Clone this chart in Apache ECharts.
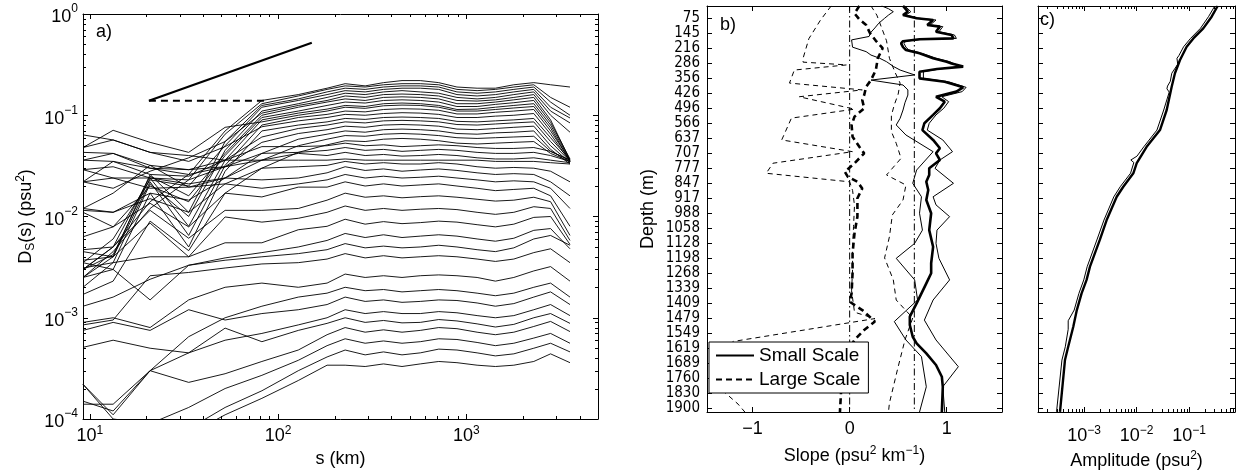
<!DOCTYPE html>
<html><head><meta charset="utf-8">
<script src="https://cdn.jsdelivr.net/npm/echarts@6.0.0/dist/echarts.min.js"></script>
<style>html,body{margin:0;padding:0;background:#fff}#c{width:1242px;height:471px}</style>
</head><body><div id="c"></div>
<script>
// ---------------- Panel a: structure functions D_S(s) ----------------
const sKm = [9.2,13.3,20.9,33.5,52.3,82,128,182,227,290,363,455,569,713,891,1140,1426,1786,2280,2800,3550];
const dsProfiles = [
 [5e-5,4e-5,5e-5,7e-5,1.1e-4,1.6e-4,2.4e-4,3.4e-4,3.4e-4,3.3e-4,3.5e-4,3.3e-4,3.5e-4,3.7e-4,3.6e-4,3.4e-4,3.3e-4,3.4e-4,3.7e-4,4.4e-4,3.6e-4],
 [6e-5,5e-5,6e-5,8e-5,1.3e-4,1.9e-4,3.0e-4,4.1e-4,4.8e-4,4.3e-4,4.6e-4,4.3e-4,4.5e-4,4.9e-4,4.8e-4,4.5e-4,4.2e-4,4.4e-4,5.0e-4,5.6e-4,4.6e-4],
 [2.2e-4,1.0e-4,9e-5,1.3e-4,2.0e-4,2.7e-4,3.8e-4,5.3e-4,6.2e-4,5.6e-4,5.9e-4,5.6e-4,5.8e-4,6.2e-4,6.1e-4,5.7e-4,5.3e-4,5.6e-4,6.3e-4,7.0e-4,5.6e-4],
 [1.4e-4,1.4e-4,3.0e-4,2.3e-4,2.8e-4,3.7e-4,4.8e-4,6.8e-4,8.0e-4,7.2e-4,7.6e-4,7.2e-4,7.5e-4,8.0e-4,7.8e-4,7.2e-4,6.8e-4,7.2e-4,8.2e-4,9.2e-4,7.3e-4],
 [1.5e-4,1.2e-4,3e-4,4.5e-4,7.9e-4,5.8e-4,7.5e-4,8.8e-4,1.0e-3,9.0e-4,9.4e-4,8.9e-4,9.0e-4,9.6e-4,9.3e-4,8.7e-4,8.1e-4,8.6e-4,1.0e-3,1.1e-3,8.8e-4],
 [5.1e-4,6.0e-4,5.0e-4,4.5e-4,6.0e-4,7.0e-4,8.5e-4,1.0e-3,1.2e-3,1.1e-3,1.15e-3,1.1e-3,1.1e-3,1.15e-3,1.12e-3,1.05e-3,1.0e-3,1.05e-3,1.2e-3,1.35e-3,1.05e-3],
 [7.5e-4,9.0e-4,7.5e-4,1.2e-3,9.5e-4,1.1e-3,1.2e-3,1.35e-3,1.6e-3,1.45e-3,1.5e-3,1.42e-3,1.45e-3,1.5e-3,1.48e-3,1.4e-3,1.3e-3,1.38e-3,1.6e-3,1.8e-3,1.35e-3],
 [2.2e-4,1.1e-4,3.0e-4,6.5e-4,1.0e-3,1.3e-3,1.6e-3,1.75e-3,2.0e-3,1.85e-3,1.9e-3,1.8e-3,1.85e-3,1.9e-3,1.85e-3,1.75e-3,1.65e-3,1.75e-3,2.0e-3,2.2e-3,1.6e-3],
 [9.0e-4,1.0e-3,8.0e-4,1.5e-3,2.0e-3,2.2e-3,2.0e-3,2.2e-3,2.7e-3,2.5e-3,2.6e-3,2.5e-3,2.6e-3,2.65e-3,2.6e-3,2.5e-3,2.3e-3,2.5e-3,2.9e-3,3.2e-3,2.3e-3],
 [8.5e-4,9.5e-4,2.6e-3,2.8e-3,3.1e-3,3.4e-3,3.5e-3,3.8e-3,4.3e-3,3.9e-3,4.1e-3,3.9e-3,4.0e-3,4.1e-3,4.0e-3,3.8e-3,3.6e-3,3.8e-3,4.4e-3,4.8e-3,3.5e-3],
 [1.3e-3,1.6e-3,2.4e-3,3.3e-3,3.7e-3,4.0e-3,4.3e-3,4.7e-3,5.4e-3,4.9e-3,5.1e-3,4.9e-3,5.0e-3,5.2e-3,5.0e-3,4.7e-3,4.5e-3,4.9e-3,6.0e-3,6.5e-3,5.2e-3],
 [2.5e-3,3.0e-3,1.5e-3,3.3e-3,3.9e-3,4.4e-3,5.0e-3,5.8e-3,6.8e-3,6.2e-3,6.6e-3,6.2e-3,6.4e-3,6.6e-3,6.4e-3,6.0e-3,5.7e-3,6.1e-3,7.3e-3,7.6e-3,4.8e-3],
 [3.1e-3,3.5e-3,4.0e-3,4.0e-3,5.5e-3,5.5e-3,7.4e-3,8.0e-3,9.4e-3,8.4e-3,8.9e-3,8.5e-3,8.7e-3,9.0e-3,8.8e-3,8.3e-3,7.9e-3,8.4e-3,9.8e-3,1.0e-2,5.3e-3],
 [3.7e-3,4.0e-3,8.6e-3,4.0e-3,9.9e-3,8.8e-3,9.6e-3,1.1e-2,1.27e-2,1.15e-2,1.2e-2,1.15e-2,1.18e-2,1.2e-2,1.17e-2,1.1e-2,1.05e-2,1.1e-2,1.25e-2,1.2e-2,5.8e-3],
 [4.7e-3,5.0e-3,1.15e-2,6.1e-3,1.15e-2,1.15e-2,1.2e-2,1.45e-2,1.7e-2,1.55e-2,1.6e-2,1.53e-2,1.57e-2,1.6e-2,1.55e-2,1.48e-2,1.42e-2,1.45e-2,1.55e-2,1.4e-2,6.5e-3],
 [6.3e-3,7.9e-3,1.35e-2,7.9e-3,1.7e-2,1.56e-2,1.95e-2,1.95e-2,2.2e-2,2.0e-2,2.1e-2,2.0e-2,2.05e-2,2.1e-2,2.0e-2,1.9e-2,1.8e-2,1.85e-2,1.9e-2,1.6e-2,8e-3],
 [1.15e-2,1.1e-2,1.5e-2,1.1e-2,2.1e-2,1.9e-2,2.1e-2,2.3e-2,2.6e-2,2.4e-2,2.5e-2,2.4e-2,2.44e-2,2.5e-2,2.4e-2,2.3e-2,2.2e-2,2.25e-2,2.2e-2,1.9e-2,1.2e-2],
 [1.2e-2,1.1e-2,1.7e-2,1.45e-2,2.4e-2,2.3e-2,2.4e-2,2.7e-2,3.1e-2,2.85e-2,2.95e-2,2.8e-2,2.88e-2,2.95e-2,2.85e-2,2.7e-2,2.6e-2,2.65e-2,2.6e-2,2.2e-2,1.6e-2],
 [2.2e-2,2.4e-2,1.9e-2,1.95e-2,2.1e-2,3.0e-2,3.1e-2,3.2e-2,3.5e-2,3.3e-2,3.4e-2,3.3e-2,3.3e-2,3.4e-2,3.3e-2,3.1e-2,3.0e-2,3.05e-2,3.0e-2,2.8e-2,2.2e-2],
 [2.9e-2,3.1e-2,2.4e-2,2.3e-2,3.1e-2,3.6e-2,3.6e-2,3.6e-2,3.7e-2,3.6e-2,3.6e-2,3.6e-2,3.6e-2,3.6e-2,3.6e-2,3.6e-2,3.5e-2,3.5e-2,3.5e-2,3.4e-2,3.3e-2],
 [3.6e-2,3.5e-2,2.6e-2,2.5e-2,3.6e-2,3.6e-2,4.2e-2,4.0e-2,4.3e-2,4.0e-2,4.1e-2,3.95e-2,4.0e-2,4.1e-2,4.0e-2,3.8e-2,3.7e-2,3.7e-2,3.8e-2,3.6e-2,3.4e-2],
 [4.3e-2,4.2e-2,3.0e-2,2.9e-2,3.1e-2,4.2e-2,4.3e-2,4.5e-2,4.8e-2,4.5e-2,4.6e-2,4.4e-2,4.5e-2,4.6e-2,4.5e-2,4.3e-2,4.2e-2,4.2e-2,4.3e-2,4.0e-2,3.5e-2],
 [4.8e-2,5.7e-2,4.3e-2,4.0e-2,3.6e-2,4.9e-2,4.9e-2,5.0e-2,5.3e-2,5.0e-2,5.1e-2,4.9e-2,5.0e-2,5.1e-2,5.0e-2,4.8e-2,4.7e-2,4.7e-2,4.8e-2,4.4e-2,3.6e-2],
 [1.7e-3,2.3e-3,9e-3,4.6e-3,1.7e-2,3.0e-2,4.3e-2,5.1e-2,5.6e-2,5.5e-2,5.8e-2,5.9e-2,5.8e-2,5.6e-2,5.3e-2,5.2e-2,5.3e-2,5.4e-2,5.5e-2,4.2e-2,3.5e-2],
 [1.2e-2,1.7e-2,3.2e-2,1.95e-2,2.4e-2,3.6e-2,5.0e-2,5.8e-2,6.3e-2,6.2e-2,6.5e-2,6.6e-2,6.5e-2,6.3e-2,6.0e-2,5.9e-2,6.0e-2,6.1e-2,6.2e-2,4.4e-2,3.6e-2],
 [2.9e-2,2.4e-2,2.4e-2,2.1e-2,2.4e-2,4.2e-2,5.8e-2,6.5e-2,7.0e-2,6.8e-2,7.2e-2,7.3e-2,7.2e-2,7.0e-2,6.6e-2,6.5e-2,6.7e-2,6.8e-2,7.0e-2,4.6e-2,3.3e-2],
 [2.2e-2,3.5e-2,3.0e-2,2.6e-2,3.1e-2,5.4e-2,6.6e-2,7.2e-2,7.8e-2,7.6e-2,8.0e-2,8.1e-2,8.0e-2,7.8e-2,7.3e-2,7.2e-2,7.4e-2,7.6e-2,7.8e-2,5.0e-2,3.4e-2],
 [3.6e-2,4.2e-2,3.2e-2,2.9e-2,3.6e-2,6.1e-2,7.4e-2,8.0e-2,8.6e-2,8.4e-2,8.8e-2,8.9e-2,8.8e-2,8.6e-2,8.1e-2,8.0e-2,8.2e-2,8.4e-2,8.6e-2,5.5e-2,3.5e-2],
 [3.5e-3,3e-3,1.7e-2,5e-3,2.8e-2,7e-2,8.0e-2,8.6e-2,9.3e-2,9.1e-2,9.5e-2,9.6e-2,9.5e-2,9.3e-2,8.7e-2,8.6e-2,8.8e-2,9.0e-2,9.3e-2,6.0e-2,3.6e-2],
 [6.4e-2,5.7e-2,4.3e-2,3.5e-2,4.9e-2,7.7e-2,8.8e-2,9.5e-2,1.02e-1,1.0e-1,1.04e-1,1.06e-1,1.05e-1,1.02e-1,9.5e-2,9.5e-2,9.8e-2,1.0e-1,1.04e-1,6.5e-2,3.5e-2],
 [2.5e-3,4e-3,2.2e-2,6.5e-3,3.2e-2,8.0e-2,9.5e-2,1.02e-1,1.1e-1,1.08e-1,1.14e-1,1.16e-1,1.15e-1,1.12e-1,1.03e-1,1.03e-1,1.07e-1,1.1e-1,1.14e-1,7.0e-2,3.6e-2],
 [4.8e-2,7.1e-2,5.4e-2,4.3e-2,7.6e-2,8.6e-2,1.0e-1,1.1e-1,1.2e-1,1.17e-1,1.24e-1,1.26e-1,1.25e-1,1.2e-1,1.1e-1,1.1e-1,1.14e-1,1.18e-1,1.22e-1,7.5e-2,3.5e-2],
 [3e-3,4.2e-3,2.4e-2,8e-3,3.6e-2,9.0e-2,1.05e-1,1.15e-1,1.25e-1,1.22e-1,1.3e-1,1.32e-1,1.3e-1,1.25e-1,1.14e-1,1.15e-1,1.2e-1,1.25e-1,1.3e-1,8.0e-2,3.6e-2],
 [1.1e-2,7.9e-3,2.0e-2,1.4e-2,4.0e-2,9.5e-2,1.1e-1,1.25e-1,1.35e-1,1.32e-1,1.4e-1,1.42e-1,1.4e-1,1.35e-1,1.22e-1,1.22e-1,1.28e-1,1.33e-1,1.4e-1,8.5e-2,3.7e-2],
 [3e-3,5e-3,2.5e-2,1.6e-2,4.2e-2,1.0e-1,1.2e-1,1.35e-1,1.45e-1,1.4e-1,1.5e-1,1.52e-1,1.5e-1,1.45e-1,1.3e-1,1.3e-1,1.35e-1,1.42e-1,1.5e-1,9.0e-2,3.6e-2],
 [2.2e-2,1.9e-2,2.8e-2,3.8e-2,5.5e-2,1.05e-1,1.25e-1,1.4e-1,1.55e-1,1.5e-1,1.6e-1,1.62e-1,1.6e-1,1.55e-1,1.4e-1,1.38e-1,1.42e-1,1.5e-1,1.6e-1,1.0e-1,6.8e-2],
 [2e-3,3.5e-3,2.1e-2,1.0e-2,4.5e-2,1.1e-1,1.3e-1,1.5e-1,1.65e-1,1.6e-1,1.7e-1,1.75e-1,1.7e-1,1.65e-1,1.5e-1,1.45e-1,1.5e-1,1.6e-1,1.7e-1,1.1e-1,8.4e-2],
 [3.5e-3,6e-3,2.3e-2,2.0e-2,5.0e-2,1.2e-1,1.4e-1,1.6e-1,1.75e-1,1.7e-1,1.8e-1,1.85e-1,1.85e-1,1.8e-1,1.6e-1,1.55e-1,1.6e-1,1.7e-1,1.8e-1,1.2e-1,9.4e-2],
 [4.5e-3,4e-3,2.6e-2,1.1e-2,5.5e-2,1.25e-1,1.45e-1,1.7e-1,1.85e-1,1.8e-1,1.9e-1,1.95e-1,1.95e-1,1.9e-1,1.7e-1,1.65e-1,1.7e-1,1.8e-1,1.9e-1,1.35e-1,1.0e-1],
 [2.5e-3,4.5e-3,1.2e-2,2.3e-2,6.5e-2,1.3e-1,1.55e-1,1.8e-1,1.95e-1,1.9e-1,2.0e-1,2.05e-1,2.05e-1,2.0e-1,1.8e-1,1.75e-1,1.8e-1,1.9e-1,2.0e-1,1.5e-1,1.2e-1],
 [3e-3,5e-3,1.4e-2,2.6e-2,7.0e-2,1.4e-1,1.6e-1,1.85e-1,2.05e-1,1.95e-1,2.1e-1,2.2e-1,2.2e-1,2.1e-1,1.9e-1,1.85e-1,1.85e-1,2.0e-1,2.1e-1,2.0e-1,1.9e-1]
];
const slopeRefS = [20.6, 151];
const slopeRefD = [0.139, 0.52];
const flatRefS = [20.6, 87];
const flatRefD = [0.139, 0.139];

// ---------------- Panel b: slopes vs depth  [depth m, slope] ----------------
const depthTicks = [75,145,216,286,356,426,496,566,637,707,777,847,917,988,1058,1128,1198,1268,1339,1409,1479,1549,1619,1689,1760,1830,1900];
const smallMean = [[17,.55],[44,.60],[60,.55],[75,.69],[83,.86],[106,.80],[114,.93],[138,.89],[153,1.05],[169,1.07],[173,.72],[182,.55],[192,.53],[210,.55],[223,.58],[239,.72],[262,.86],[278,1.0],[286,1.05],[301,1.17],[312,.90],[325,.72],[356,.72],[372,.98],[398,1.17],[418,1.10],[442,.89],[465,.98],[496,.93],[527,.86],[566,.77],[598,.75],[644,.86],[683,.93],[707,.89],[738,.93],[777,.82],[808,.82],[840,.79],[878,.81],[925,.79],[987,.84],[1066,.82],[1144,.86],[1221,.84],[1268,.84],[1315,.79],[1362,.74],[1409,.69],[1471,.62],[1510,.62],[1565,.65],[1596,.69],[1643,.79],[1697,.89],[1752,.95],[1799,.96],[1917,.95]];
const smallHi = [[17,.57],[44,.63],[60,.58],[75,.72],[83,.89],[106,.83],[114,.96],[138,.92],[153,1.08],[169,1.10],[173,.75],[182,.58],[192,.56],[210,.58],[223,.61],[239,.75],[262,.89],[278,1.03],[286,1.07],[301,1.15],[312,.93],[325,.76],[356,.76],[372,1.02],[398,1.20],[418,1.16],[442,.95],[465,1.02],[496,.97],[527,.89],[566,.82],[598,.80],[644,.96],[699,1.06],[738,.93],[777,.88],[847,1.07],[910,.86],[948,.89],[1003,1.03],[1066,.90],[1128,.89],[1198,.92],[1299,1.03],[1393,.86],[1487,.77],[1580,.89],[1705,1.12],[1799,.96],[1917,.98]];
const smallLo = [[17,.33],[30,.40],[44,.45],[60,.40],[75,.36],[98,.30],[120,.26],[140,.22],[160,.20],[176,.02],[185,0.0],[210,.03],[231,.17],[247,.22],[262,.31],[278,.38],[300,.45],[317,.52],[340,.67],[364,.22],[387,.55],[410,.60],[434,.60],[470,.57],[504,.55],[543,.52],[574,.48],[621,.58],[699,.86],[785,.69],[847,.65],[910,.74],[987,.72],[1066,.75],[1128,.67],[1198,.48],[1299,.67],[1393,.70],[1494,.46],[1580,.58],[1658,.74],[1799,.79],[1917,.72]];
const largeMean = [[17,.10],[52,.05],[80,.10],[106,.17],[145,.21],[180,.27],[215,.34],[262,.29],[317,.27],[364,.22],[395,.17],[434,.15],[457,.13],[496,.15],[535,.05],[574,.02],[629,.03],[676,.10],[707,.15],[753,.05],[793,-.05],[816,-.02],[840,.08],[871,.13],[917,.08],[1003,.08],[1081,.05],[1175,.03],[1268,.03],[1362,.02],[1401,0],[1440,.13],[1494,.26],[1533,.15],[1580,.05],[1643,-.03],[1750,-.08],[1917,-.1]];
const largeHi = [[17,.22],[60,.28],[120,.33],[180,.38],[262,.41],[330,.47],[378,.52],[430,.50],[480,.46],[530,.43],[605,.43],[660,.48],[730,.53],[808,.38],[855,.58],[925,.55],[995,.44],[1097,.41],[1196,.36],[1299,.45],[1393,.48],[1477,.65],[1580,.57],[1705,.50],[1875,.41],[1917,.40]];
const largeLo = [[17,-.19],[83,-.30],[170,-.42],[262,-.48],[280,-.48],[293,-.03],[317,-.57],[378,-.62],[410,.13],[442,-.52],[500,.05],[542,-.60],[644,-.70],[699,.03],[753,-.79],[800,-.86],[840,0.0],[880,.03],[950,.05],[1050,.04],[1150,.03],[1250,.03],[1350,.02],[1450,.05],[1480,.26],[1587,-1.2],[1700,-1.45],[1800,-1.35],[1880,-1.15],[1917,-1.08]];
const refSlopes = [0, 2/3];

// ---------------- Panel c: amplitude vs depth  [depth m, amplitude psu^2] ----------------
const ampThick = [[17.5,.352],[67.5,.270],[122,.187],[169,.121],[208,.0903],[270,.0674],[332,.054],[395,.0468],[504,.0376],[598,.028],[676,.0156],[753,.0101],[800,.0087],[863,.0056],[910,.0042],[1019,.0027],[1112,.0020],[1237,.0013],[1299,.00112],[1362,.0009],[1440,.00073],[1518,.000625],[1612,.0005],[1674,.000434],[1916,.000349]];
const ampThin = [[17.5,.31],[67.5,.235],[122,.165],[169,.107],[208,.079],[250,.064],[262,.059],[290,.061],[332,.047],[370,.044],[392,.039],[405,.038],[420,.042],[504,.033],[598,.0245],[676,.0138],[720,.0102],[738,.0078],[750,.0089],[800,.0077],[863,.0049],[910,.0037],[1019,.0024],[1112,.00176],[1237,.00115],[1299,.00099],[1362,.0008],[1440,.00065],[1490,.0005],[1530,.0005],[1612,.00044],[1674,.00038],[1916,.0003]];

// axis limits
const sRange = [9.2, 5000];
const dsRange = [1e-4, 1];
const slopeRange = [-1.47, 1.57];
const depthRange = [17.4, 1917];
const ampRange = [1.33e-4, 0.752];

// ---------------- build ----------------
const L10 = Math.log10;
const FONT = 'Liberation Sans, Arial, sans-serif';
const NARROW = 'Liberation Sans Narrow, DejaVu Sans Condensed, Liberation Sans, sans-serif';
const dStep = (depthTicks[depthTicks.length-1] - depthTicks[0]) / (depthTicks.length - 1);
const u = d => (d - depthTicks[0]) / dStep;

function supNum(n){ return n < 0 ? '\u2212' + (-n) : String(n); }
function isInt(v){ return Math.abs(v - Math.round(v)) < 1e-6; }
function pow10Fmt(v){ if (!isInt(v)) return ''; return '{b|10}{s|' + supNum(Math.round(v)) + '}'; }
const richX = { b:{fontFamily:FONT,fontSize:18,lineHeight:22,color:'#000'}, s:{fontFamily:FONT,fontSize:12,lineHeight:12,verticalAlign:'top',color:'#000'} };
const richY = { b:{fontFamily:FONT,fontSize:18,lineHeight:22,padding:[7,0,0,0],color:'#000'}, s:{fontFamily:FONT,fontSize:12,lineHeight:12,verticalAlign:'top',color:'#000'} };
const nameRich = { n:{fontFamily:FONT,fontSize:18,lineHeight:22,color:'#000'}, s:{fontFamily:FONT,fontSize:12,lineHeight:12,verticalAlign:'top',color:'#000'}, d:{fontFamily:FONT,fontSize:12,lineHeight:12,verticalAlign:'bottom',color:'#000'} };

function ax(extra){
  return Object.assign({
    type:'value',
    axisLine:{show:true,onZero:false,lineStyle:{color:'#000',width:1}},
    axisTick:{show:true,inside:true,length:5,lineStyle:{color:'#000',width:1}},
    axisLabel:{show:false}, splitLine:{show:false}, minInterval:1, maxInterval:1
  }, extra);
}
const nameStyle = {fontFamily:FONT,fontSize:18,color:'#000',rich:nameRich};

const xAxes = [
  ax({gridIndex:0, position:'bottom', min:L10(sRange[0]), max:L10(sRange[1]),
      axisLabel:{show:true, margin:6, formatter:pow10Fmt, rich:richX},
      name:'{n|s (km)}', nameLocation:'middle', nameGap:28, nameTextStyle:nameStyle}),
  ax({gridIndex:0, position:'top', min:L10(sRange[0]), max:L10(sRange[1])}),
  ax({gridIndex:1, position:'bottom', min:slopeRange[0], max:slopeRange[1],
      axisLabel:{show:true, margin:6, fontFamily:FONT, fontSize:18, lineHeight:22, color:'#000',
        formatter: v => isInt(v) ? supNum(Math.round(v)) : ''},
      name:'{n|Slope (psu}{s|2}{n| km}{s|\u22121}{n|)}', nameLocation:'middle', nameGap:28, nameTextStyle:nameStyle}),
  ax({gridIndex:1, position:'top', min:slopeRange[0], max:slopeRange[1]}),
  ax({gridIndex:2, position:'bottom', min:L10(ampRange[0]), max:L10(ampRange[1]),
      axisLabel:{show:true, margin:13, formatter:pow10Fmt, rich:richX},
      name:'{n|Amplitude (psu}{s|2}{n|)}', nameLocation:'middle', nameGap:33, nameTextStyle:nameStyle}),
  ax({gridIndex:2, position:'top', min:L10(ampRange[0]), max:L10(ampRange[1])})
];
const yAxes = [
  ax({gridIndex:0, position:'left', min:L10(dsRange[0]), max:L10(dsRange[1]),
      axisLabel:{show:true, margin:5, formatter:pow10Fmt, rich:richY},
      name:'{n|D}{d|S}{n|(s) (psu}{s|2}{n|)}', nameLocation:'middle', nameRotate:90, nameGap:46, nameTextStyle:nameStyle}),
  ax({gridIndex:0, position:'right', min:L10(dsRange[0]), max:L10(dsRange[1])}),
  ax({gridIndex:1, position:'left', inverse:true, min:u(depthRange[0]), max:u(depthRange[1]),
      axisLabel:{show:true, margin:7, fontFamily:NARROW, fontSize:15, color:'#000',
        formatter: v => isInt(v) ? String(depthTicks[Math.round(v)]) : ''},
      name:'{n|Depth (m)}', nameLocation:'middle', nameRotate:90, nameGap:48, nameTextStyle:nameStyle}),
  ax({gridIndex:1, position:'right', inverse:true, min:u(depthRange[0]), max:u(depthRange[1])}),
  ax({gridIndex:2, position:'left', inverse:true, min:u(depthRange[0]), max:u(depthRange[1])}),
  ax({gridIndex:2, position:'right', inverse:true, min:u(depthRange[0]), max:u(depthRange[1])})
];

const series = [];
const blk = '#000';
dsProfiles.forEach(p => series.push({type:'line', xAxisIndex:0, yAxisIndex:0, symbol:'none', silent:true,
  data:p.map((v,i)=>[L10(sKm[i]), L10(v)]), lineStyle:{color:blk,width:0.9}}));
series.push({type:'line', xAxisIndex:0, yAxisIndex:0, symbol:'none', silent:true, z:3,
  data:slopeRefS.map((s,i)=>[L10(s), L10(slopeRefD[i])]), lineStyle:{color:blk,width:2.2}});
series.push({type:'line', xAxisIndex:0, yAxisIndex:0, symbol:'none', silent:true, z:3,
  data:flatRefS.map((s,i)=>[L10(s), L10(flatRefD[i])]), lineStyle:{color:blk,width:2.2,type:[7,5]}});

function prof(arr, name, width, type){
  const o = {type:'line', xAxisIndex:2, yAxisIndex:2, symbol:'none', silent:true,
    data:arr.map(([d,x])=>[x, u(d)]), lineStyle:{color:blk,width:width,type:type}, itemStyle:{color:blk}};
  if (name) o.name = name;
  return o;
}
refSlopes.forEach(x => series.push({type:'line', xAxisIndex:2, yAxisIndex:2, symbol:'none', silent:true,
  data:[[x,u(depthRange[0])],[x,u(depthRange[1])]], lineStyle:{color:blk,width:1,type:[7,3,1.5,3]}}));
series.push(prof(largeLo, null, 1, [5,4]));
series.push(prof(largeHi, null, 1, [5,4]));
series.push(prof(smallLo, null, 1, 'solid'));
series.push(prof(smallHi, null, 1, 'solid'));
series.push(prof(largeMean, 'Large Scale', 2.6, [6,4]));
series.push(prof(smallMean, 'Small Scale', 2.6, 'solid'));

series.push({type:'line', xAxisIndex:4, yAxisIndex:4, symbol:'none', silent:true,
  data:ampThin.map(([d,a])=>[L10(a), u(d)]), lineStyle:{color:blk,width:1}});
series.push({type:'line', xAxisIndex:4, yAxisIndex:4, symbol:'none', silent:true,
  data:ampThick.map(([d,a])=>[L10(a), u(d)]), lineStyle:{color:blk,width:2.4}});

// minor log ticks
function minorLogs(lo, hi){
  const out = [];
  for (let n = Math.floor(lo) - 1; n <= Math.ceil(hi); n++)
    for (let k = 2; k <= 9; k++){ const v = n + L10(k); if (v > lo + 1e-6 && v < hi - 1e-6) out.push(v); }
  return out;
}
function tickSeries(xi, yi, xs, ys, xr, yr, len){
  return {type:'custom', xAxisIndex:xi, yAxisIndex:yi, silent:true, clip:false, z:5, data:[[xr[0], yr[0]]],
    renderItem:function(params, api){
      const ch = [];
      const st = {stroke:'#000', lineWidth:1};
      xs.forEach(x => {
        const a = api.coord([x, yr[0]]), b = api.coord([x, yr[1]]);
        const bot = Math.max(a[1], b[1]), top = Math.min(a[1], b[1]);
        const px = Math.round(a[0]) + 0.5;
        ch.push({type:'line', shape:{x1:px,y1:bot,x2:px,y2:bot-len}, style:st});
        ch.push({type:'line', shape:{x1:px,y1:top,x2:px,y2:top+len}, style:st});
      });
      ys.forEach(y => {
        const a = api.coord([xr[0], y]), b = api.coord([xr[1], y]);
        const py = Math.round(a[1]) + 0.5;
        ch.push({type:'line', shape:{x1:a[0],y1:py,x2:a[0]+len,y2:py}, style:st});
        ch.push({type:'line', shape:{x1:b[0],y1:py,x2:b[0]-len,y2:py}, style:st});
      });
      return {type:'group', children:ch};
    }};
}
const axR = [L10(sRange[0]), L10(sRange[1])], ayR = [L10(dsRange[0]), L10(dsRange[1])];
series.push(tickSeries(0, 0, minorLogs(axR[0], axR[1]), minorLogs(ayR[0], ayR[1]), axR, ayR, 3));
const cxR = [L10(ampRange[0]), L10(ampRange[1])];
series.push(tickSeries(4, 4, minorLogs(cxR[0], cxR[1]), [], cxR, [u(depthRange[0]), u(depthRange[1])], 3));

const option = {
  animation:false, backgroundColor:'#fff',
  grid:[
    {left:83, top:14, width:515, height:405, containLabel:false, outerBoundsMode:'none'},
    {left:707, top:6, width:295, height:406, containLabel:false, outerBoundsMode:'none'},
    {left:1038, top:6, width:197, height:406, containLabel:false, outerBoundsMode:'none'}
  ],
  xAxis:xAxes, yAxis:yAxes,
  legend:{data:['Small Scale','Large Scale'], orient:'vertical', left:709, top:342,
    itemWidth:38, itemHeight:12, itemGap:5, padding:[4,8,4,6], borderColor:'#000', borderWidth:1, borderRadius:0,
    backgroundColor:'#fff', selectedMode:false, itemStyle:{opacity:0},
    textStyle:{fontFamily:FONT, fontSize:19, color:'#000'}, z:10},
  graphic:[
    {type:'text', left:96, top:23, style:{text:'a)', fontFamily:FONT, fontSize:18, fill:'#000'}},
    {type:'text', left:720, top:16, style:{text:'b)', fontFamily:FONT, fontSize:18, fill:'#000'}},
    {type:'text', left:1040, top:11, style:{text:'c)', fontFamily:FONT, fontSize:18, fill:'#000'}}
  ],
  series:series
};
const chart = echarts.init(document.getElementById('c'), null, {renderer:'canvas', width:1242, height:471});
chart.setOption(option);
</script></body></html>
